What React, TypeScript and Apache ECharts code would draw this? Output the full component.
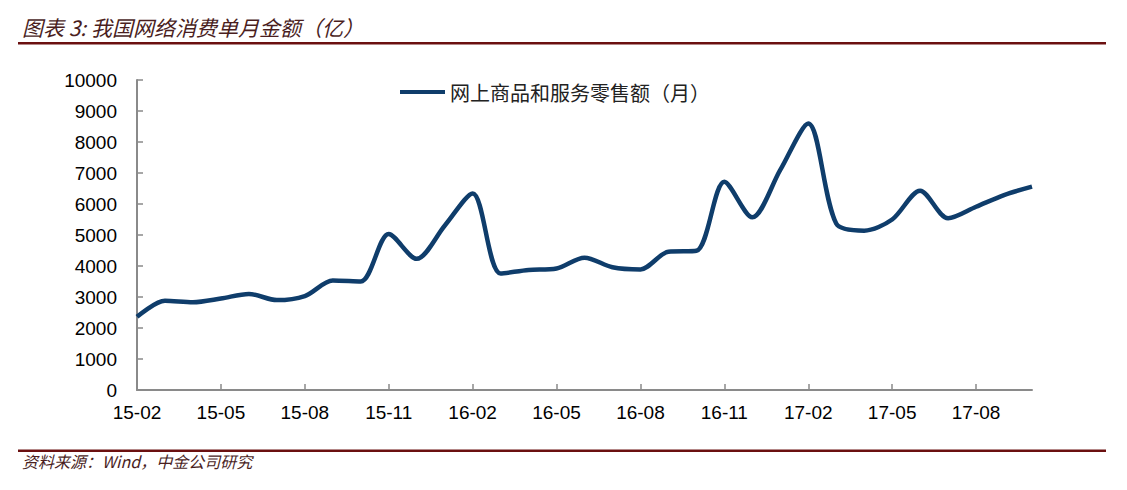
import React, { useEffect, useRef } from "react";
import * as echarts from "echarts";

const months: string[] = [
  "15-02", "15-03", "15-04", "15-05", "15-06", "15-07", "15-08", "15-09", "15-10", "15-11", "15-12",
  "16-01", "16-02", "16-03", "16-04", "16-05", "16-06", "16-07", "16-08", "16-09", "16-10", "16-11", "16-12",
  "17-01", "17-02", "17-03", "17-04", "17-05", "17-06", "17-07", "17-08", "17-09", "17-10",
];

const onlineSales: number[] = [
  2360, 2880, 2830, 2950, 3100, 2900, 3030, 3530, 3500, 5030, 4230,
  5300, 6340, 3760, 3870, 3920, 4270, 3960, 3890, 4460, 4490, 6720, 5570,
  7100, 8600, 5370, 5140, 5500, 6430, 5540, 5910, 6290, 6560,
];

const seriesName = "网上商品和服务零售额（月）";
const titleText = "图表 3: 我国网络消费单月金额（亿）";
const sourceText = "资料来源：Wind，中金公司研究";

export default function App() {
  const ref = useRef<HTMLDivElement>(null);

  useEffect(() => {
    if (!ref.current) return;
    const chart = echarts.init(ref.current, undefined, { renderer: "svg" });
    const lineColor = "#0f3d6b";
    const maroon = "#6b1010";
    const textBrown = "#4a1e1e";
    chart.setOption({
      animation: false,
      backgroundColor: "#ffffff",
      grid: { left: 137, right: 95, top: 80, bottom: 100, containLabel: false },
      legend: {
        data: [{ name: seriesName, icon: "rect" }],
        left: 395,
        top: 77,
        itemWidth: 45,
        itemHeight: 4,
        itemGap: 6,
        textStyle: {
          fontFamily: "Noto Sans CJK SC",
          fontSize: 20,
          color: "#222222",
        },
      },
      xAxis: {
        type: "category",
        data: months,
        boundaryGap: false,
        axisLine: { show: true, lineStyle: { color: "#8a8a8a", width: 2 } },
        axisTick: {
          show: true,
          inside: true,
          length: 6,
          interval: 2,
          lineStyle: { color: "#8a8a8a", width: 1.5 },
        },
        axisLabel: {
          interval: 2,
          margin: 13,
          fontFamily: "Liberation Sans",
          fontSize: 19,
          color: "#000000",
        },
        splitLine: { show: false },
      },
      yAxis: {
        type: "value",
        min: 0,
        max: 10000,
        interval: 1000,
        axisLine: { show: true, lineStyle: { color: "#8a8a8a", width: 2 } },
        axisTick: {
          show: true,
          inside: true,
          length: 6,
          lineStyle: { color: "#8a8a8a", width: 1.5 },
        },
        axisLabel: {
          margin: 20,
          fontFamily: "Liberation Sans",
          fontSize: 19,
          color: "#000000",
          formatter: (v: number) => String(v),
        },
        splitLine: { show: false },
      },
      series: [
        {
          name: seriesName,
          type: "line",
          data: onlineSales,
          smooth: 0.3,
          showSymbol: false,
          symbol: "none",
          lineStyle: { color: lineColor, width: 4.5 },
          itemStyle: { color: lineColor },
        },
      ],
      graphic: [
        {
          type: "text",
          left: 22,
          top: 16,
          style: {
            text: titleText,
            fontFamily: "Noto Sans CJK SC",
            fontStyle: "italic",
            fontSize: 21,
            fill: textBrown,
          },
        },
        {
          type: "rect",
          shape: { x: 18, y: 42, width: 1088, height: 2.5 },
          style: { fill: maroon },
        },
        {
          type: "rect",
          shape: { x: 18, y: 449.5, width: 1088, height: 2.5 },
          style: { fill: maroon },
        },
        {
          type: "text",
          left: 22,
          top: 453,
          style: {
            text: sourceText,
            fontFamily: "Noto Sans CJK SC",
            fontStyle: "italic",
            fontSize: 16,
            fill: textBrown,
          },
        },
      ],
    });
    return () => chart.dispose();
  }, []);

  return <div ref={ref} style={{ width: 1127, height: 490, margin: -8 }} />;
}
